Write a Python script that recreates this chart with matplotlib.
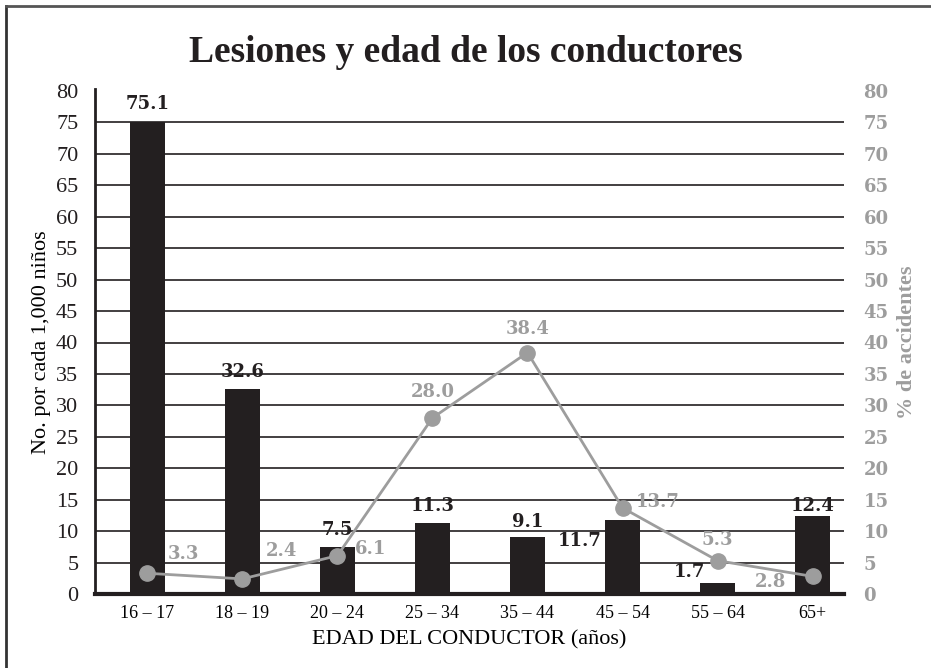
import numpy as np
import matplotlib.pyplot as plt
from matplotlib.lines import Line2D

# Data
edades = ['16 – 17', '18 – 19', '20 – 24', '25 – 34', '35 – 44', '45 – 54', '55 – 64', '65+']
lesiones = [75.1, 32.6, 7.5, 11.3, 9.1, 11.7, 1.7, 12.4]
pct_accidentes = [3.3, 2.4, 6.1, 28.0, 38.4, 13.7, 5.3, 2.8]

# label offsets (points) for the line values
line_offsets = [(26, 14), (28, 20), (24, 5), (0, 19), (0, 17), (25, 4), (0, 15), (-30, -4)]
# bar label offsets (points) from the bar top
bar_offsets = [(0, 13), (0, 12), (0, 12), (0, 12), (0, 11), (-31, -15), (-20, 8), (0, 7)]

dark = '#231f20'
gray = '#9d9d9d'
serif = ['Liberation Serif', 'DejaVu Serif']

plt.rcParams['font.family'] = serif

fig = plt.figure(figsize=(9.31, 6.68), dpi=100)
ax = fig.add_axes([95 / 931, 1 - 594 / 668, (844 - 95) / 931, (594 - 91) / 668])
x = np.arange(len(edades))

ax.bar(x, lesiones, width=0.37, color=dark, zorder=3)
ax.set_xlim(-0.55, 7.33)
ax.set_ylim(0, 80)
ax.set_yticks(range(0, 85, 5))
for yv in range(5, 80, 5):
    ax.axhline(yv, color=dark, lw=1.2, zorder=1)

ax.spines['top'].set_visible(False)
ax.spines['right'].set_visible(False)
ax.spines['left'].set_linewidth(2)
ax.spines['left'].set_color(dark)
ax.spines['bottom'].set_linewidth(3)
ax.spines['bottom'].set_color(dark)
ax.spines['bottom'].set_zorder(5)
ax.spines['left'].set_bounds(0, 80.3)

ax.set_xticks(x)
ax.set_xticklabels(edades, fontsize=13)
ax.tick_params(axis='x', length=0, pad=8)
ax.tick_params(axis='y', length=0, pad=12, labelsize=16, labelcolor=dark)
ax.set_xlabel('EDAD DEL CONDUCTOR (años)', fontsize=16, labelpad=6)
ax.set_ylabel('No. por cada 1,000 niños', fontsize=16, labelpad=4)

for i, v in enumerate(lesiones):
    dx, dy = bar_offsets[i]
    ax.annotate(f'{v:.1f}', (x[i], v), xytext=(dx, dy), textcoords='offset points',
                ha='center', va='center', fontsize=13, fontweight='bold', color=dark,
                family=['DejaVu Serif'], zorder=6)

# Right axis: percent of accidents
ax2 = ax.twinx()
ax2.set_ylim(0, 80)
ax2.set_yticks(range(0, 85, 5))
for s in ax2.spines.values():
    s.set_visible(False)
ax2.tick_params(axis='y', length=0, pad=14, labelsize=13, labelcolor=gray)
for t in ax2.get_yticklabels():
    t.set_fontweight('bold')
    t.set_family(['DejaVu Serif'])
ax2.plot(x, pct_accidentes, color=gray, lw=2, marker='o', markersize=11, zorder=4)
ax2.set_ylabel('% de accidentes', fontsize=16, color=gray, fontweight='bold', labelpad=6)

for i, v in enumerate(pct_accidentes):
    dx, dy = line_offsets[i]
    ax2.annotate(f'{v:.1f}', (x[i], v), xytext=(dx, dy), textcoords='offset points',
                 ha='center', va='center', fontsize=13, fontweight='bold', color=gray,
                 family=['DejaVu Serif'])

fig.suptitle('Lesiones y edad de los conductores', y=0.948, fontsize=27, fontweight='bold',
             color=dark)

# frame around the figure (only left and top show)
fig.add_artist(Line2D([6 / 931, 6 / 931], [0, 1 - 6 / 668], transform=fig.transFigure,
                      color='#333333', lw=2))
fig.add_artist(Line2D([6 / 931, 1], [1 - 6 / 668, 1 - 6 / 668], transform=fig.transFigure,
                      color='#555555', lw=2))

plt.savefig('out.png', dpi=100)
